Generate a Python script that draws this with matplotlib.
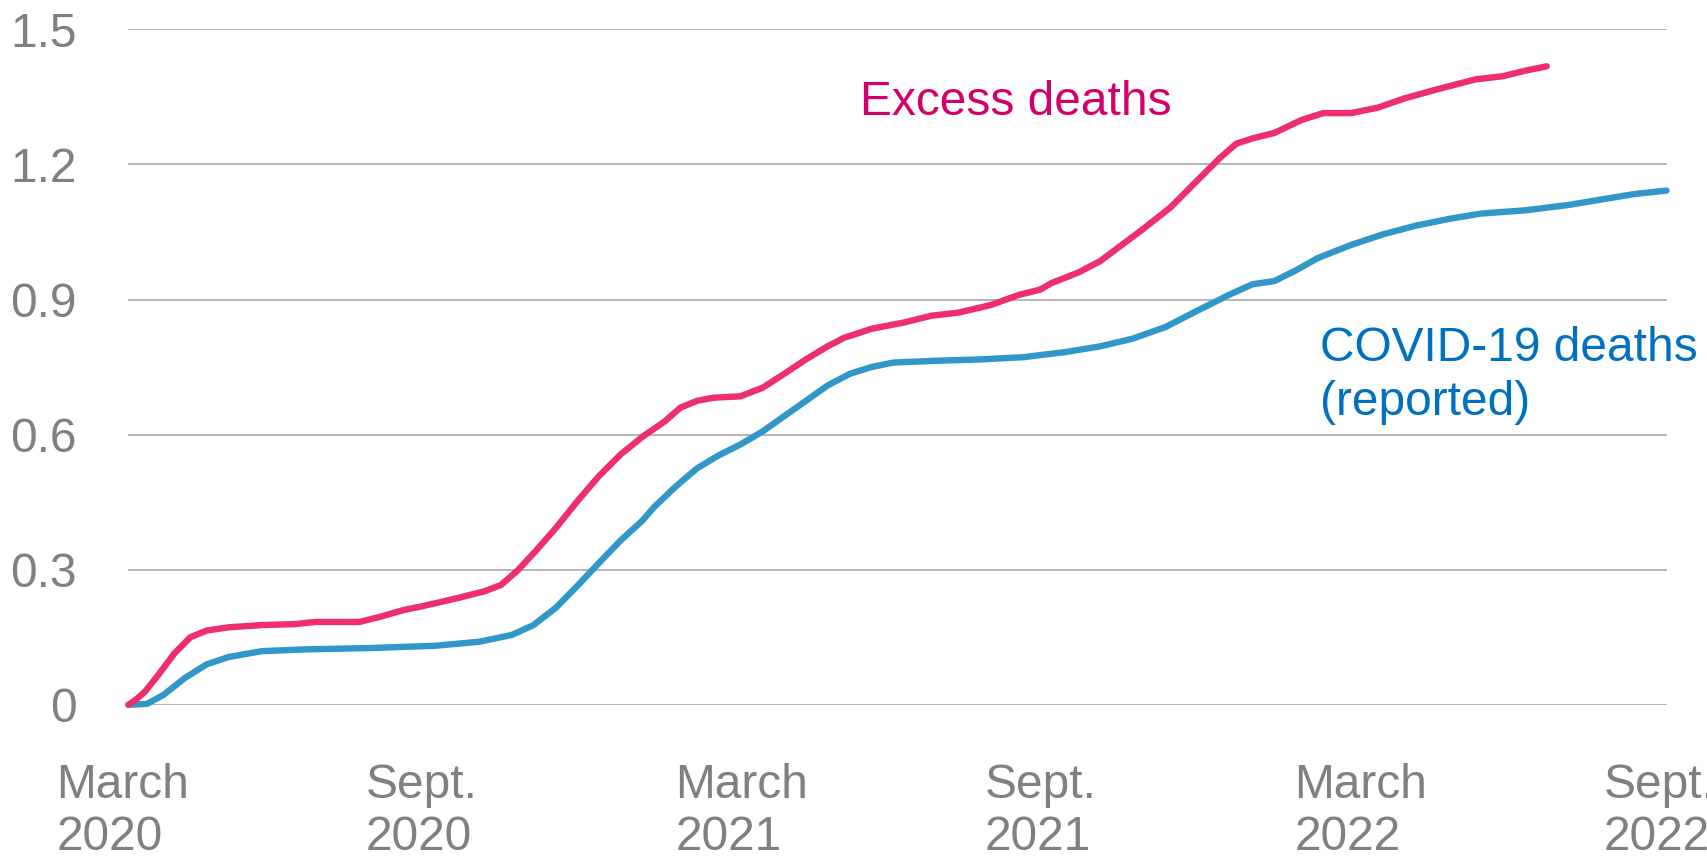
import matplotlib.pyplot as plt
import matplotlib.transforms as mtransforms

# months since start of March 2020, cumulative deaths (millions)
excess_months = [0, 0.15, 0.32, 0.57, 0.89, 1.2, 1.52, 1.94, 2.58, 3.21, 3.63, 4.48, 4.9,
                 5.32, 5.74, 6.38, 6.9, 7.22, 7.54, 7.85, 8.28, 8.7, 9.12, 9.54, 9.96,
                 10.39, 10.7, 11.02, 11.34, 11.86, 12.29, 12.71, 13.13, 13.55, 13.87,
                 14.4, 15.03, 15.56, 16.09, 16.72, 17.25, 17.67, 17.88, 18.41, 18.83,
                 19.25, 19.67, 20.2, 20.73, 21.15, 21.47, 21.79, 22.21, 22.74, 23.16,
                 23.69, 24.21, 24.74, 25.37, 26.11, 26.64, 27.06, 27.49]
excess = [0, 0.012, 0.029, 0.065, 0.114, 0.15, 0.165, 0.172, 0.177, 0.179, 0.184, 0.184,
          0.196, 0.21, 0.22, 0.237, 0.252, 0.266, 0.298, 0.336, 0.392, 0.452, 0.508,
          0.556, 0.595, 0.629, 0.66, 0.675, 0.682, 0.685, 0.704, 0.735, 0.767, 0.796,
          0.815, 0.835, 0.849, 0.864, 0.871, 0.888, 0.91, 0.922, 0.936, 0.96, 0.985,
          1.021, 1.057, 1.105, 1.166, 1.214, 1.246, 1.258, 1.27, 1.299, 1.314, 1.314,
          1.326, 1.347, 1.367, 1.389, 1.396, 1.408, 1.418]

covid_months = [0, 0.36, 0.68, 1.1, 1.52, 1.94, 2.58, 3.42, 4.69, 5.95, 6.8, 7.43, 7.85,
                8.28, 8.7, 9.12, 9.54, 9.96, 10.18, 10.6, 11.02, 11.44, 11.86, 12.29,
                12.71, 13.13, 13.55, 13.98, 14.4, 14.82, 15.66, 16.51, 17.35, 18.2,
                18.83, 19.46, 20.1, 20.73, 21.36, 21.79, 22.21, 22.63, 23.05, 23.69,
                24.32, 24.95, 25.59, 26.22, 27.06, 27.91, 28.54, 29.17, 29.81]
covid = [0, 0.002, 0.022, 0.06, 0.09, 0.106, 0.119, 0.123, 0.126, 0.131, 0.14, 0.155,
         0.177, 0.215, 0.264, 0.315, 0.365, 0.409, 0.438, 0.484, 0.525, 0.554, 0.578,
         0.607, 0.641, 0.675, 0.709, 0.735, 0.75, 0.76, 0.764, 0.767, 0.772, 0.784,
         0.796, 0.813, 0.839, 0.876, 0.912, 0.934, 0.941, 0.965, 0.992, 1.021, 1.045,
         1.064, 1.079, 1.091, 1.098, 1.11, 1.122, 1.134, 1.142]

x_ticks = [0, 6, 12, 18, 24, 30]
x_labels = ['March\n2020', 'Sept.\n2020', 'March\n2021', 'Sept.\n2021', 'March\n2022', 'Sept.\n2022']
y_ticks = [0, 0.3, 0.6, 0.9, 1.2, 1.5]
y_labels = ['0', '0.3', '0.6', '0.9', '1.2', '1.5']

plt.rcParams['font.family'] = ['Liberation Sans', 'DejaVu Sans']
grey = '#808080'
fs = 34.5

fig = plt.figure(figsize=(17.08, 8.64), dpi=100)
ax = fig.add_axes([0.0752, 0.1843, 0.9008, 0.7817])

ax.plot(covid_months, covid, color='#3197c9', lw=4.6, solid_capstyle='round', clip_on=False, zorder=3)
ax.plot(excess_months, excess, color='#ef2f6c', lw=4.6, solid_capstyle='round', clip_on=False, zorder=4)

ax.set_xlim(0, 29.82)
ax.set_ylim(0, 1.5)
ax.set_yticks(y_ticks)
ax.set_yticklabels(y_labels)
ax.set_xticks([])
ax.tick_params(axis='y', length=0, labelsize=fs, colors=grey, pad=37)

# month labels: left-aligned, starting a bit before each month start
trans = mtransforms.blended_transform_factory(ax.transData, ax.transAxes)
for t, lab in zip(x_ticks, x_labels):
    ax.text(t - 1.4, -0.086, lab, transform=trans, ha='left', va='top',
            fontsize=fs, color=grey, linespacing=1.2, clip_on=False)

ax.yaxis.grid(True, color='#a0a0a0', lw=1.1)
ax.set_axisbelow(True)
for s in ax.spines.values():
    s.set_visible(False)

ax.text(14.18, 1.31, 'Excess deaths', color='#d4006a', fontsize=fs, va='baseline')
ax.text(23.09, 0.644, 'COVID-19 deaths\n(reported)', color='#0070c0', fontsize=fs,
        va='baseline', linespacing=1.25)

fig.savefig('out.png', dpi=100)
